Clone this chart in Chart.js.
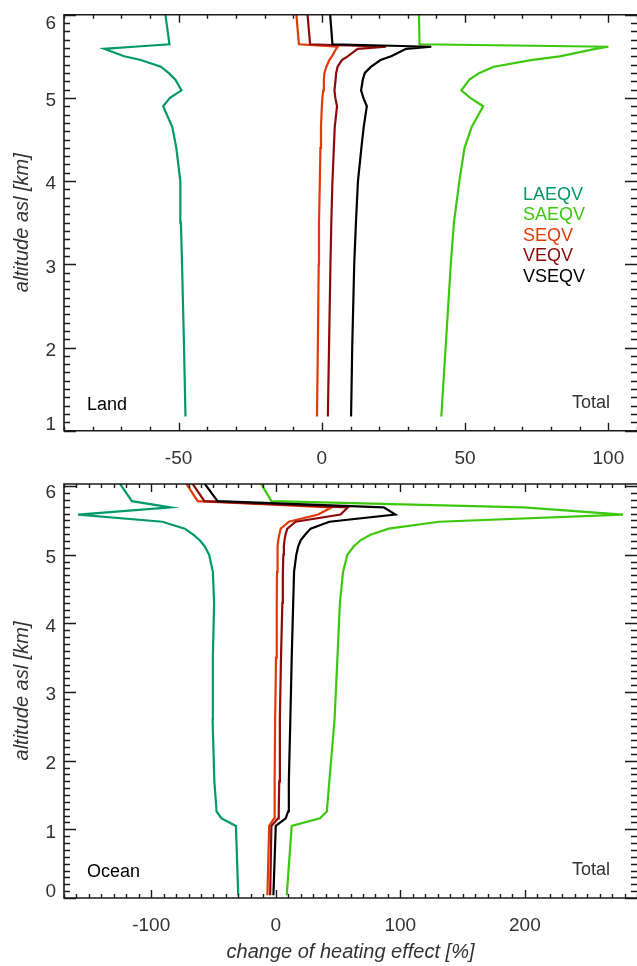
<!DOCTYPE html>
<html>
<head>
<meta charset="utf-8">
<script src="https://cdn.jsdelivr.net/npm/chart.js@4.4.1/dist/chart.umd.min.js"></script>
<style>
  html, body { margin: 0; padding: 0; background: #fff; overflow: hidden; }
  #wrap { position: relative; width: 637px; height: 966px; }
  canvas { position: absolute; left: 0; }
  #land { top: 0; }
  #ocean { top: 466px; }
</style>
</head>
<body>
<div id="wrap">
  <canvas id="land" width="637" height="466"></canvas>
  <canvas id="ocean" width="637" height="500"></canvas>
</div>
<script>
// ── series names + colours ──
const SERIES = ['LAEQV', 'SAEQV', 'SEQV', 'VEQV', 'VSEQV'];
const COLORS = ['#00996a', '#3cc80c', '#e03a08', '#8c0a0a', '#000000'];

// ── Land: altitude levels [km] and change of heating effect [%] ──
const LAND_ALT   = [1.17, 2.0, 3.0, 3.5, 4.0, 4.4, 4.65, 4.9, 5.0, 5.09, 5.22, 5.3, 5.375, 5.455, 5.5, 5.59, 5.615, 5.645, 6.0];
const LAND_LAEQV = [-47.6, -48.1, -48.8, -49.2, -49.4, -50.8, -52.2, -55.4, -53.0, -49.0, -51.1, -53.5, -56.2, -63.2, -69.0, -76.0, -65.6, -53.2, -54.6];
const LAND_SAEQV = [41.7, 43.2, 45.0, 46.1, 48.0, 49.8, 52.3, 56.3, 51.8, 48.7, 51.5, 55.0, 60.0, 73.0, 83.0, 95.5, 100.0, 34.1, 33.9];
const LAND_SEQV  = [-1.7, -1.4, -1.1, -1.0, -0.7, -0.5, -0.3, 0.0, 0.2, 0.5, 0.7, 0.9, 1.6, 2.6, 3.5, 5.0, 5.5, -8.0, -8.9];
const LAND_VEQV  = [2.1, 2.5, 3.0, 3.3, 3.7, 4.2, 4.5, 5.3, 4.7, 4.4, 4.8, 5.0, 5.5, 7.0, 9.0, 12.5, 22.4, -4.1, -5.0];
const LAND_VSEQV = [10.2, 10.6, 11.3, 11.9, 12.6, 13.8, 14.6, 15.7, 14.5, 13.7, 14.3, 15.0, 17.2, 20.5, 24.2, 29.4, 38.2, 3.7, 2.9];

// ── Ocean ──
const OCEAN_ALT   = [0.04, 1.05, 1.16, 1.26, 1.7, 2.6, 3.5, 4.3, 4.75, 5.0, 5.12, 5.21, 5.29, 5.38, 5.48, 5.585, 5.69, 5.78, 6.04];
const OCEAN_LAEQV = [-30.1, -32.0, -43.5, -47.5, -49.3, -50.7, -50.5, -49.5, -50.5, -53.5, -57.0, -61.0, -66.0, -73.0, -91.0, -158.7, -84.5, -115.5, -125.3];
const OCEAN_SAEQV = [8.8, 12.8, 35.5, 41.0, 43.0, 47.2, 49.5, 51.5, 54.0, 57.5, 62.5, 68.0, 76.0, 90.7, 131.0, 278.7, 199.0, -3.5, -12.0];
const OCEAN_SEQV  = [-6.7, -5.3, -1.3, -1.0, -0.8, -0.5, 0.2, 0.8, 1.0, 1.3, 1.6, 2.0, 2.8, 4.0, 10.5, 34.0, 45.0, -62.7, -72.0];
const OCEAN_VEQV  = [-4.5, -3.5, 1.9, 2.4, 2.8, 3.3, 4.2, 5.3, 5.7, 6.1, 6.5, 7.0, 7.8, 9.3, 16.0, 52.0, 58.0, -57.3, -67.0];
const OCEAN_VSEQV = [-1.9, 0.0, 8.0, 9.9, 10.5, 11.7, 12.8, 14.0, 14.7, 16.5, 18.0, 20.0, 23.5, 28.0, 43.0, 96.0, 86.7, -46.7, -57.3];

// ── tick labels ──
const LAND_X_TICKS  = [-50, 0, 50, 100];
const LAND_Y_TICKS  = [1, 2, 3, 4, 5, 6];
const OCEAN_X_TICKS = [-100, 0, 100, 200];
const OCEAN_Y_TICKS = [0, 1, 2, 3, 4, 5, 6];

const FONT = "'Liberation Sans', Arial, Helvetica, sans-serif";

function profile(xs, alt) { return xs.map((v, i) => ({ x: v, y: alt[i] })); }

function makeDatasets(alt, cols) {
  return cols.map((xs, i) => ({
    label: SERIES[i], data: profile(xs, alt),
    borderColor: COLORS[i], backgroundColor: COLORS[i],
    borderWidth: 2.2, pointRadius: 0, showLine: true, tension: 0,
    order: cols.length - i
  }));
}

// IDL-style box: inward ticks on all four sides, labels, corner texts
const idlFrame = {
  id: 'idlFrame',
  afterDraw(chart, args, o) {
    const { ctx, chartArea: a, scales: { x, y } } = chart;
    ctx.save();
    ctx.strokeStyle = '#1a1a1a';
    ctx.lineWidth = 1.6;
    ctx.beginPath();
    ctx.moveTo(a.right, a.top); ctx.lineTo(a.left, a.top);
    ctx.lineTo(a.left, a.bottom); ctx.lineTo(a.right, a.bottom);
    ctx.stroke();

    ctx.lineWidth = 1.4;
    ctx.beginPath();
    for (let k = Math.ceil(x.min / o.xStep - 1e-6); k * o.xStep <= x.max + 1e-6; k++) {
      const v = k * o.xStep, px = Math.round(x.getPixelForValue(v)) + 0.5;
      const len = o.xTicks.includes(v) ? 8 : 4;
      ctx.moveTo(px, a.bottom); ctx.lineTo(px, a.bottom - len);
      ctx.moveTo(px, a.top); ctx.lineTo(px, a.top + len);
    }
    for (let k = Math.ceil(y.min / 0.1 - 1e-6); k * 0.1 <= y.max + 1e-6; k++) {
      const v = Math.round(k) / 10, py = Math.round(y.getPixelForValue(v)) + 0.5;
      const len = (k % 10 === 0) ? 12 : 6;
      ctx.moveTo(a.left, py); ctx.lineTo(a.left + len, py);
      ctx.moveTo(a.right, py); ctx.lineTo(a.right - len, py);
    }
    ctx.stroke();

    ctx.fillStyle = '#333';
    ctx.font = '19px ' + FONT;
    ctx.textAlign = 'center'; ctx.textBaseline = 'middle';
    o.xTicks.forEach(v => ctx.fillText(String(v), x.getPixelForValue(v), a.bottom + 28));
    ctx.textAlign = 'right';
    o.yTicks.forEach(v => {
      let py = y.getPixelForValue(v) + 3;
      py = Math.min(Math.max(py, a.top + 9), a.bottom - 6);
      ctx.fillText(String(v), a.left - 8, py);
    });

    ctx.font = 'italic 20px ' + FONT;
    ctx.textAlign = 'center';
    ctx.save();
    ctx.translate(22, (a.top + a.bottom) / 2);
    ctx.rotate(-Math.PI / 2);
    ctx.fillText('altitude asl [km]', 0, 0);
    ctx.restore();
    if (o.xTitle) ctx.fillText(o.xTitle, (a.left + a.right) / 2, a.bottom + 54);

    ctx.font = '18px ' + FONT;
    ctx.textAlign = 'left'; ctx.fillStyle = '#000';
    ctx.fillText(o.corner, a.left + 23, a.bottom - 26);
    ctx.textAlign = 'right'; ctx.fillStyle = '#333';
    ctx.fillText('Total', a.right - 27, a.bottom - 28);

    if (o.legend) {
      ctx.textAlign = 'left';
      SERIES.forEach((s, i) => {
        ctx.fillStyle = COLORS[i];
        ctx.fillText(s, 523, 195 + i * 20.5);
      });
    }
    ctx.restore();
  }
};

function makeChart(id, alt, cols, xr, yr, pad, frame) {
  return new Chart(document.getElementById(id), {
    type: 'scatter',
    data: { datasets: makeDatasets(alt, cols) },
    options: {
      responsive: false, animation: false, devicePixelRatio: 1,
      layout: { padding: pad },
      plugins: { legend: { display: false }, tooltip: { enabled: false }, idlFrame: frame },
      scales: {
        x: { type: 'linear', min: xr[0], max: xr[1], display: false },
        y: { type: 'linear', min: yr[0], max: yr[1], display: false }
      }
    },
    plugins: [idlFrame]
  });
}

makeChart('land', LAND_ALT,
  [LAND_LAEQV, LAND_SAEQV, LAND_SEQV, LAND_VEQV, LAND_VSEQV],
  [-90, 110], [1, 6],
  { left: 64, top: 14.7, right: 0, bottom: 35.3 },
  { xTicks: LAND_X_TICKS, yTicks: LAND_Y_TICKS, xStep: 10, corner: 'Land', legend: true });

makeChart('ocean', OCEAN_ALT,
  [OCEAN_LAEQV, OCEAN_SAEQV, OCEAN_SEQV, OCEAN_VEQV, OCEAN_VSEQV],
  [-170, 290], [0, 6.03],
  { left: 64, top: 18, right: 0, bottom: 68 },
  { xTicks: OCEAN_X_TICKS, yTicks: OCEAN_Y_TICKS, xStep: 10, corner: 'Ocean',
    xTitle: 'change of heating effect [%]' });
</script>
</body>
</html>
